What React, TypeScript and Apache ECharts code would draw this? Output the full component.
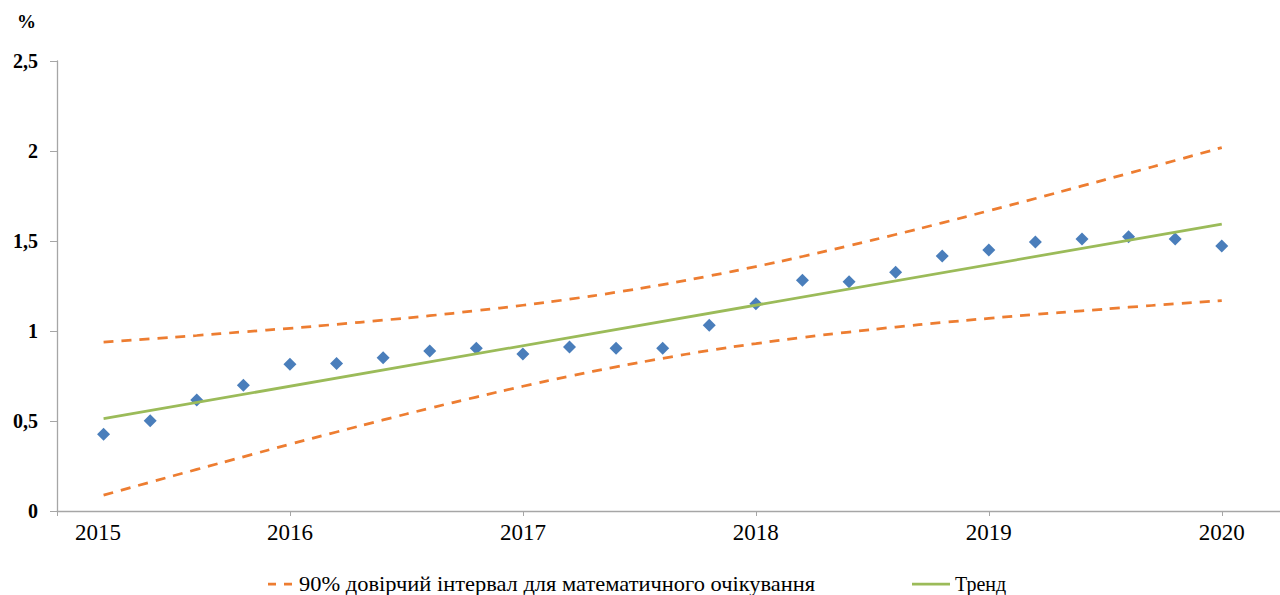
import React, { useEffect, useRef } from "react";
import * as echarts from "echarts";

const periods = [
  2015.2, 2015.4, 2015.6, 2015.8, 2016.0,
  2016.2, 2016.4, 2016.6, 2016.8, 2017.0,
  2017.2, 2017.4, 2017.6, 2017.8, 2018.0,
  2018.2, 2018.4, 2018.6, 2018.8, 2019.0,
  2019.2, 2019.4, 2019.6, 2019.8, 2020.0,
];

const actual = [
  0.426, 0.502, 0.617, 0.698, 0.815,
  0.820, 0.852, 0.889, 0.904, 0.872,
  0.911, 0.904, 0.904, 1.032, 1.152,
  1.282, 1.274, 1.327, 1.417, 1.450,
  1.494, 1.511, 1.524, 1.511, 1.472,
];

const upperBound = [
  0.938, 0.956, 0.975, 0.995, 1.015,
  1.037, 1.060, 1.085, 1.113, 1.143,
  1.177, 1.215, 1.258, 1.306, 1.358,
  1.414, 1.474, 1.536, 1.601, 1.668,
  1.736, 1.806, 1.876, 1.947, 2.019,
];

const lowerBound = [
  0.088, 0.160, 0.231, 0.301, 0.371,
  0.439, 0.506, 0.571, 0.633, 0.693,
  0.749, 0.801, 0.848, 0.892, 0.930,
  0.964, 0.994, 1.022, 1.047, 1.070,
  1.092, 1.112, 1.132, 1.151, 1.169,
];

const trendX = [2015.2, 2020.0];
const trendY = [0.513, 1.594];

const yTicks = [0, 0.5, 1, 1.5, 2, 2.5];
const xYears = [2015, 2016, 2017, 2018, 2019, 2020];

const CI_NAME = "90% довірчий інтервал для математичного очікування";
const TREND_NAME = "Тренд";
const SERIF = "Liberation Serif";

const pairs = (xs: number[], ys: number[]) => xs.map((x, i) => [x, ys[i]]);

export default function App() {
  const ref = useRef<HTMLDivElement>(null);

  useEffect(() => {
    if (!ref.current) return;
    const chart = echarts.init(ref.current, undefined, { renderer: "svg" });
    const orange = "#ED7D31";
    const green = "#9BBB59";
    const blue = "#4A7EBB";
    const axisGrey = "#a6a6a6";
    const legendY = 584;

    chart.setOption({
      animation: false,
      backgroundColor: "#ffffff",
      textStyle: { fontFamily: SERIF },
      grid: { left: 57, right: 0, top: 61, bottom: 84, containLabel: false },
      graphic: [
        {
          type: "text",
          left: 17,
          top: 12,
          style: {
            text: "%",
            font: `bold 19px ${SERIF}`,
            fill: "#000",
          },
        },
        {
          type: "line",
          shape: { x1: 268, y1: legendY, x2: 292, y2: legendY },
          style: { stroke: orange, lineWidth: 2.75, lineDash: [8, 8] },
        },
        {
          type: "text",
          x: 299,
          y: legendY,
          scaleX: 1.07,
          style: {
            text: CI_NAME,
            font: `21px ${SERIF}`,
            fill: "#000",
            textVerticalAlign: "middle",
            verticalAlign: "middle",
          },
        },
        {
          type: "line",
          shape: { x1: 912, y1: legendY, x2: 950, y2: legendY },
          style: { stroke: green, lineWidth: 2.75 },
        },
        {
          type: "text",
          x: 955,
          y: legendY,
          style: {
            text: TREND_NAME,
            font: `20px ${SERIF}`,
            fill: "#000",
            textVerticalAlign: "middle",
            verticalAlign: "middle",
          },
        },
      ],
      xAxis: {
        type: "value",
        min: xYears[0],
        max: 2020.25,
        interval: 1,
        axisLine: { show: true, lineStyle: { color: axisGrey, width: 1.3 } },
        axisTick: { show: true, length: 5, lineStyle: { color: axisGrey } },
        splitLine: { show: false },
        axisLabel: {
          margin: 10,
          fontFamily: SERIF,
          fontSize: 23,
          color: "#000",
          showMaxLabel: false,
          formatter: (v: number) => {
            if (v === xYears[0]) return `{first|${v}}`;
            return xYears.includes(v) ? String(v) : "";
          },
          rich: {
            first: {
              padding: [0, 0, 0, 82],
              fontFamily: SERIF,
              fontSize: 23,
              color: "#000",
            },
          },
        },
      },
      yAxis: {
        type: "value",
        min: yTicks[0],
        max: yTicks[yTicks.length - 1],
        interval: 0.5,
        axisLine: { show: true, lineStyle: { color: axisGrey, width: 1.3 } },
        axisTick: { show: true, length: 7, lineStyle: { color: axisGrey } },
        splitLine: { show: false },
        axisLabel: {
          margin: 19,
          fontFamily: SERIF,
          fontSize: 20,
          fontWeight: "bold",
          color: "#000",
          formatter: (v: number) => String(v).replace(".", ","),
        },
      },
      series: [
        {
          name: CI_NAME,
          type: "line",
          data: pairs(periods, upperBound),
          showSymbol: false,
          symbol: "none",
          smooth: true,
          lineStyle: { color: orange, width: 2.75, type: [10, 8] },
          itemStyle: { color: orange },
        },
        {
          name: CI_NAME,
          type: "line",
          data: pairs(periods, lowerBound),
          showSymbol: false,
          symbol: "none",
          smooth: true,
          lineStyle: { color: orange, width: 2.75, type: [10, 8] },
          itemStyle: { color: orange },
        },
        {
          name: TREND_NAME,
          type: "line",
          data: pairs(trendX, trendY),
          showSymbol: false,
          symbol: "none",
          lineStyle: { color: green, width: 2.75 },
          itemStyle: { color: green },
        },
        {
          name: "Фактичні значення",
          type: "scatter",
          data: pairs(periods, actual),
          symbol: "diamond",
          symbolSize: 13,
          itemStyle: { color: blue, opacity: 1 },
        },
      ],
    });

    return () => chart.dispose();
  }, []);

  return (
    <div
      ref={ref}
      style={{ position: "absolute", left: 0, top: 0, width: 1280, height: 595 }}
    />
  );
}
